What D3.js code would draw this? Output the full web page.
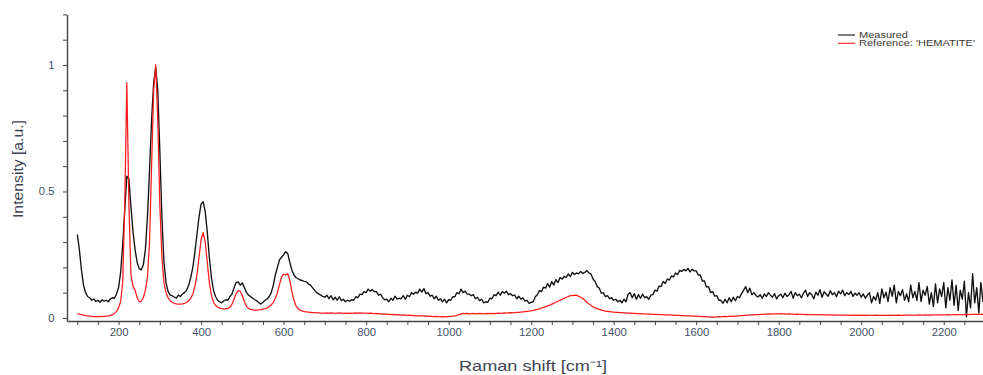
<!DOCTYPE html>
<meta charset="utf-8">

<style type="text/css">
  body {
    margin: 0;
    font-family: "Liberation Sans", Arial, sans-serif;
    background: #fff;
  }

  .axis path,
  .axis line {
    stroke: #444;
  }

  .axis path {
    stroke-width: 1.4px;
  }

  .axis text {
    fill: #3f5168;
    font-size: 10px;
    font-family: "Liberation Sans", Arial, sans-serif;
  }

  .title {
    fill: #3e4452;
    font-size: 15px;
  }

  .legend text {
    fill: #3a3530;
    font-size: 8.5px;
  }
</style>

<body>
  <script src="https://d3js.org/d3.v7.min.js"></script>

  <script>
    var w = 983;
    var h = 375;

    // raman shift grid, cm-1 (100 .. 2300, every 5)
    var shiftStart = 100;
    var shiftEnd = 2300;
    var shiftStep = 5;

    // measured spectrum, one row per 100 cm-1
    var measured = [].concat(
      [0.330,0.270,0.190,0.130,0.100,0.085,0.080,0.070,0.075,0.065,0.070,0.062,0.072,0.066,0.070,0.064,0.075,0.080,0.078,0.095],
      [0.120,0.180,0.290,0.430,0.560,0.550,0.440,0.340,0.270,0.220,0.195,0.190,0.210,0.270,0.400,0.580,0.780,0.930,0.990,0.900],
      [0.660,0.400,0.220,0.140,0.105,0.090,0.088,0.083,0.078,0.090,0.085,0.095,0.100,0.110,0.130,0.160,0.200,0.260,0.330,0.400],
      [0.450,0.460,0.420,0.340,0.240,0.160,0.110,0.085,0.070,0.064,0.060,0.068,0.072,0.070,0.085,0.095,0.120,0.140,0.143,0.130],
      [0.138,0.120,0.100,0.090,0.085,0.078,0.072,0.068,0.060,0.055,0.062,0.070,0.075,0.085,0.100,0.130,0.170,0.200,0.230,0.240],
      [0.250,0.262,0.255,0.220,0.190,0.170,0.160,0.155,0.150,0.148,0.145,0.143,0.135,0.130,0.120,0.110,0.100,0.095,0.090,0.085],
      [0.082,0.090,0.076,0.088,0.072,0.082,0.070,0.084,0.068,0.074,0.064,0.070,0.066,0.072,0.070,0.084,0.080,0.094,0.092,0.104],
      [0.100,0.114,0.106,0.112,0.104,0.104,0.090,0.094,0.080,0.072,0.074,0.064,0.078,0.070,0.086,0.074,0.078,0.076,0.088,0.074],
      [0.090,0.084,0.100,0.094,0.102,0.098,0.114,0.102,0.116,0.096,0.100,0.086,0.090,0.076,0.086,0.070,0.076,0.064,0.074,0.060],
      [0.072,0.070,0.084,0.084,0.100,0.096,0.114,0.100,0.106,0.094,0.094,0.088,0.092,0.076,0.082,0.068,0.074,0.060,0.064,0.062],
      [0.078,0.076,0.092,0.088,0.102,0.090,0.104,0.098,0.106,0.092,0.096,0.088,0.090,0.076,0.086,0.074,0.080,0.066,0.070,0.058],
      [0.062,0.064,0.084,0.092,0.108,0.104,0.122,0.118,0.136,0.122,0.144,0.130,0.152,0.140,0.160,0.154,0.164,0.160,0.174,0.164],
      [0.180,0.172,0.178,0.174,0.184,0.176,0.180,0.188,0.178,0.174,0.154,0.144,0.124,0.118,0.098,0.100,0.084,0.088,0.076,0.080],
      [0.070,0.074,0.064,0.070,0.060,0.074,0.064,0.094,0.100,0.080,0.096,0.074,0.092,0.078,0.094,0.080,0.084,0.074,0.090,0.092],
      [0.110,0.106,0.126,0.124,0.144,0.136,0.154,0.150,0.166,0.162,0.178,0.172,0.188,0.184,0.192,0.186,0.196,0.182,0.192,0.186],
      [0.186,0.170,0.170,0.146,0.146,0.122,0.124,0.100,0.104,0.086,0.088,0.070,0.070,0.058,0.074,0.060,0.080,0.064,0.082,0.068],
      [0.085,0.080,0.096,0.110,0.124,0.100,0.118,0.092,0.100,0.088,0.083,0.092,0.078,0.095,0.085,0.100,0.090,0.082,0.096,0.075],
      [0.088,0.094,0.080,0.098,0.085,0.092,0.105,0.078,0.100,0.088,0.094,0.080,0.098,0.110,0.085,0.100,0.092,0.076,0.102,0.090],
      [0.112,0.082,0.104,0.095,0.086,0.108,0.092,0.100,0.084,0.106,0.095,0.110,0.088,0.100,0.093,0.105,0.085,0.098,0.090,0.100],
      [0.082,0.095,0.078,0.090,0.100,0.060,0.085,0.070,0.100,0.058,0.115,0.080,0.102,0.065,0.120,0.085,0.130,0.060,0.105,0.088],
      [0.112,0.070,0.095,0.064,0.130,0.080,0.105,0.070,0.140,0.065,0.110,0.090,0.125,0.055,0.100,0.045,0.135,0.060,0.115,0.085],
      [0.140,0.040,0.120,0.070,0.150,0.050,0.130,0.030,0.110,0.075,0.145,0.005,0.100,0.040,0.175,0.060,0.120,0.020,0.140,0.065,0.110]
    );

    // reference spectrum 'HEMATITE'
    var reference = [].concat(
      [0.016,0.015,0.013,0.011,0.009,0.008,0.007,0.006,0.005,0.005,0.005,0.005,0.006,0.006,0.007,0.008,0.010,0.013,0.018,0.026],
      [0.040,0.065,0.140,0.450,0.930,0.450,0.170,0.125,0.110,0.080,0.065,0.066,0.080,0.110,0.160,0.300,0.600,0.900,1.000,0.780],
      [0.450,0.240,0.140,0.100,0.080,0.068,0.062,0.058,0.056,0.055,0.055,0.056,0.058,0.062,0.068,0.078,0.095,0.125,0.170,0.240],
      [0.310,0.337,0.300,0.220,0.140,0.090,0.062,0.050,0.043,0.039,0.037,0.036,0.036,0.038,0.043,0.055,0.075,0.097,0.108,0.105],
      [0.088,0.064,0.046,0.038,0.034,0.032,0.031,0.031,0.032,0.033,0.035,0.037,0.040,0.045,0.052,0.062,0.078,0.100,0.132,0.162],
      [0.173,0.170,0.175,0.150,0.105,0.070,0.048,0.037,0.031,0.028,0.025,0.024,0.023,0.022,0.021,0.021,0.020,0.020,0.019,0.019],
      [0.019,0.020,0.019,0.020,0.019,0.018,0.019,0.020,0.019,0.018,0.019,0.018,0.019,0.018,0.019,0.020,0.019,0.020,0.019,0.019],
      [0.019,0.018,0.019,0.018,0.017,0.018,0.016,0.017,0.015,0.016,0.014,0.015,0.013,0.014,0.012,0.013,0.012,0.011,0.012,0.011],
      [0.010,0.011,0.009,0.010,0.009,0.008,0.009,0.008,0.007,0.008,0.006,0.007,0.006,0.005,0.006,0.005,0.004,0.005,0.004,0.005],
      [0.005,0.006,0.007,0.008,0.010,0.013,0.016,0.018,0.017,0.018,0.016,0.017,0.018,0.016,0.017,0.018,0.017,0.016,0.017,0.018],
      [0.017,0.018,0.017,0.018,0.019,0.018,0.019,0.020,0.019,0.020,0.021,0.020,0.021,0.022,0.022,0.023,0.024,0.025,0.026,0.027],
      [0.028,0.030,0.032,0.034,0.036,0.039,0.042,0.045,0.048,0.051,0.055,0.058,0.062,0.066,0.070,0.074,0.078,0.082,0.085,0.088],
      [0.088,0.090,0.089,0.086,0.082,0.077,0.070,0.062,0.055,0.049,0.044,0.040,0.037,0.034,0.031,0.029,0.027,0.026,0.025,0.024],
      [0.023,0.022,0.022,0.021,0.021,0.020,0.020,0.019,0.019,0.018,0.018,0.017,0.017,0.016,0.016,0.016,0.015,0.015,0.015,0.014],
      [0.014,0.014,0.013,0.013,0.013,0.012,0.012,0.012,0.011,0.011,0.010,0.010,0.010,0.009,0.009,0.008,0.008,0.008,0.007,0.007],
      [0.007,0.006,0.006,0.005,0.005,0.004,0.004,0.003,0.004,0.003,0.004,0.005,0.004,0.005,0.006,0.005,0.006,0.007,0.006,0.007],
      [0.008,0.008,0.009,0.010,0.010,0.011,0.011,0.012,0.012,0.013,0.013,0.014,0.014,0.015,0.015,0.016,0.015,0.016,0.016,0.016],
      [0.016,0.017,0.016,0.016,0.015,0.016,0.015,0.015,0.014,0.015,0.014,0.014,0.014,0.013,0.014,0.013,0.013,0.013,0.012,0.013],
      [0.013,0.012,0.012,0.012,0.012,0.012,0.011,0.012,0.011,0.011,0.011,0.011,0.011,0.011,0.011,0.010,0.011,0.010,0.011,0.010],
      [0.011,0.010,0.011,0.010,0.010,0.010,0.010,0.011,0.010,0.010,0.010,0.010,0.010,0.010,0.011,0.010,0.010,0.010,0.011,0.010],
      [0.010,0.011,0.011,0.011,0.011,0.011,0.011,0.011,0.012,0.011,0.011,0.012,0.011,0.012,0.011,0.012,0.012,0.012,0.012,0.012],
      [0.012,0.012,0.013,0.012,0.013,0.013,0.012,0.013,0.013,0.013,0.013,0.014,0.013,0.014,0.014,0.014,0.014,0.014,0.014,0.014,0.014]
    );

    var xTicks = [200, 400, 600, 800, 1000, 1200, 1400, 1600, 1800, 2000, 2200];
    var yTicks = [0, 0.5, 1];
    var seriesNames = ["Measured", "Reference: 'HEMATITE'"];
    var seriesColors = ["#111", "#ff1a1a"];

    var shifts = d3.range(shiftStart, shiftEnd + 1, shiftStep);

    var x = d3.scaleLinear().domain([75, 2300]).range([67, 985]);
    var y = d3.scaleLinear().domain([-0.012, 1.2]).range([321, 14.4]);

    var svg = d3.select('body')
      .append('svg')
      .attr('width', w)
      .attr('height', h);

    // x axis, minor tick every 50
    var xMinor = d3.range(100, 2301, 50);
    var gx = svg.append('g')
      .attr('class', 'axis')
      .attr('transform', 'translate(0,' + y.range()[0] + ')')
      .call(d3.axisBottom(x).tickValues(xMinor).tickSize(4).tickSizeOuter(0)
        .tickFormat(function(d) {
          return xTicks.indexOf(d) >= 0 ? d : '';
        }));
    gx.selectAll('text')
      .attr('y', 12)
      .attr('dy', '0.32em')
      .attr('transform', 'scale(1.13,1)');

    // y axis, minor tick every 0.1
    var yMinor = d3.range(0, 13).map(function(i) { return i / 10; });
    var gy = svg.append('g')
      .attr('class', 'axis')
      .attr('transform', 'translate(' + x.range()[0] + ',0)')
      .call(d3.axisLeft(y).tickValues(yMinor).tickSize(4).tickSizeOuter(0)
        .tickFormat(function(d) {
          var hit = yTicks.filter(function(t) { return Math.abs(t - d) < 1e-9; });
          return hit.length ? d3.format('~g')(hit[0]) : '';
        }));
    gy.selectAll('text')
      .attr('x', -11)
      .attr('transform', 'scale(1.13,1)');

    var line = d3.line()
      .x(function(d, i) { return x(shifts[i]); })
      .y(function(d) { return y(d); });

    svg.append('path')
      .datum(measured)
      .attr('d', line)
      .attr('fill', 'none')
      .attr('stroke', seriesColors[0])
      .attr('stroke-width', 1.35)
      .attr('stroke-linejoin', 'round');

    svg.append('path')
      .datum(reference)
      .attr('d', line)
      .attr('fill', 'none')
      .attr('stroke', seriesColors[1])
      .attr('stroke-width', 1.25)
      .attr('stroke-linejoin', 'round');

    // axis titles (text in the original is a bit wide, stretch to match)
    svg.append('text')
      .attr('class', 'title')
      .attr('transform', 'translate(23,169) rotate(-90)')
      .attr('text-anchor', 'middle')
      .attr('textLength', 98)
      .attr('lengthAdjust', 'spacingAndGlyphs')
      .text('Intensity [a.u.]');

    svg.append('text')
      .attr('class', 'title')
      .attr('x', 533)
      .attr('y', 371)
      .attr('text-anchor', 'middle')
      .attr('textLength', 148)
      .attr('lengthAdjust', 'spacingAndGlyphs')
      .text('Raman shift [cm\u207B\u00B9]');

    // legend
    var legendWidths = [49, 116];
    var legend = svg.append('g').attr('class', 'legend');
    seriesNames.forEach(function(name, i) {
      var ly = 35 + i * 8.3;
      legend.append('line')
        .attr('x1', 838).attr('x2', 855)
        .attr('y1', ly).attr('y2', ly)
        .attr('stroke', seriesColors[i])
        .attr('stroke-width', 1.1);
      legend.append('text')
        .attr('x', 859)
        .attr('y', ly + 3)
        .attr('textLength', legendWidths[i])
        .attr('lengthAdjust', 'spacingAndGlyphs')
        .text(name);
    });
  </script>
</body>
